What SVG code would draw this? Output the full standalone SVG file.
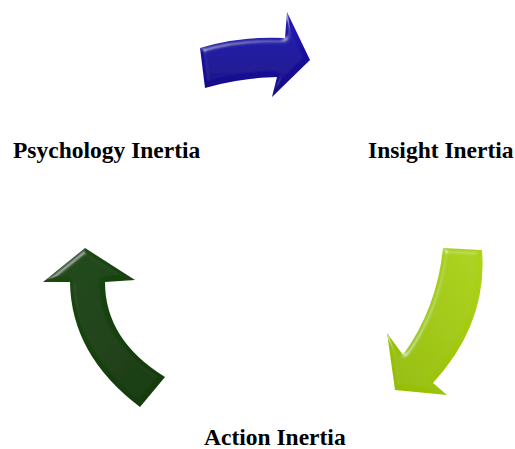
<svg xmlns="http://www.w3.org/2000/svg" width="515" height="449" viewBox="0 0 515 449">
  <style>
    .lbl { font-family: "Liberation Serif", "Times New Roman", serif; font-weight: bold; font-size: 23.5px; fill: #000; }
  </style>
  <defs>
    <filter id="bevel" x="-10%" y="-10%" width="120%" height="120%">
      <feGaussianBlur in="SourceAlpha" stdDeviation="2.5" result="blur"/>
      <feSpecularLighting in="blur" surfaceScale="3" specularConstant="0.6" specularExponent="40" lighting-color="#ffffff" result="spec">
        <feDistantLight azimuth="235" elevation="40"/>
      </feSpecularLighting>
      <feComposite in="spec" in2="SourceAlpha" operator="in" result="specIn"/>
      <feComposite in="SourceGraphic" in2="specIn" operator="arithmetic" k1="0" k2="1" k3="0.5" k4="0"/>
    </filter>
    <linearGradient id="gBlue" x1="0" y1="0" x2="0" y2="1">
      <stop offset="0" stop-color="#2418b8"/>
      <stop offset="1" stop-color="#100884"/>
    </linearGradient>
    <linearGradient id="gLime" x1="1" y1="0" x2="0" y2="1">
      <stop offset="0" stop-color="#aed41a"/>
      <stop offset="1" stop-color="#94bc00"/>
    </linearGradient>
    <linearGradient id="gDark" x1="0" y1="0" x2="1" y2="1">
      <stop offset="0" stop-color="#1c4a12"/>
      <stop offset="1" stop-color="#13380a"/>
    </linearGradient>
  </defs>

  <g id="connectors">
    <path id="arrow-blue" filter="url(#bevel)" fill="url(#gBlue)"
          d="M200,48 Q240,36 285,38 L287,12 L310,60 L272,97 L277,77 Q240,78 205,88 Z"/>
    <path id="arrow-lime" filter="url(#bevel)" fill="url(#gLime)"
          d="M443,248 L482,250 Q488,323 433,383 L447,395 L395,390 L387,333 L403,355 Q437,308 443,248 Z"/>
    <path id="arrow-dark" filter="url(#bevel)" fill="url(#gDark)"
          d="M85,248 L135,280 L105,282 Q105,340 165,377 L140,407 Q71,355 70,282 L43,282 Z"/>
  </g>

  <g id="node-psychology">
    <text class="lbl" x="13" y="158">Psychology Inertia</text>
  </g>
  <g id="node-insight">
    <text class="lbl" x="368" y="158">Insight Inertia</text>
  </g>
  <g id="node-action">
    <text class="lbl" x="204" y="445">Action Inertia</text>
  </g>
</svg>
